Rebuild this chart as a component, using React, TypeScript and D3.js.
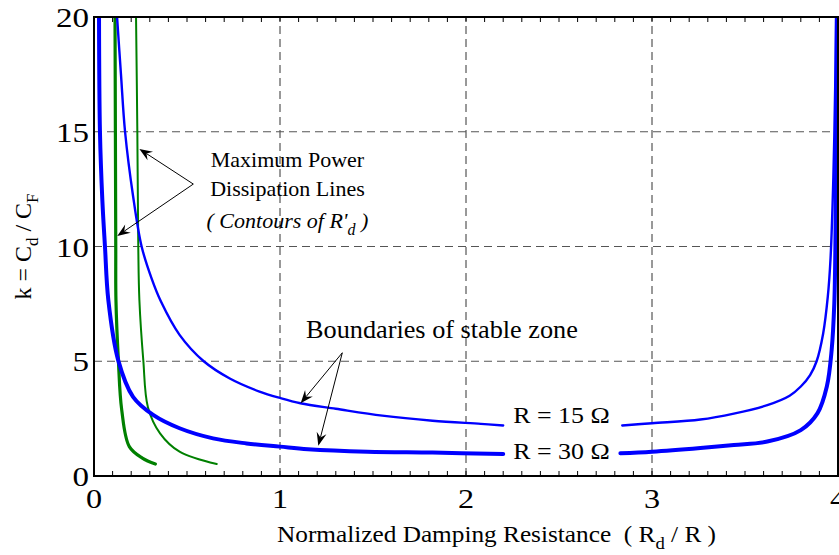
import * as d3 from "d3";
import type { ReactNode } from "react";

// k = Cd/CF against Rd/R
const r15Left: [number, number][] = [
  [0.124, 20], [0.145, 17.5], [0.167, 15], [0.21, 12.2], [0.256, 10], [0.31, 8.6],
  [0.36, 7.6], [0.46, 6.15], [0.59, 5.0], [0.73, 4.25], [0.89, 3.68], [1.0, 3.4],
  [1.11, 3.17], [1.3, 2.93], [1.55, 2.63], [1.82, 2.41], [2.08, 2.27], [2.2, 2.2],
];
const r15Right: [number, number][] = [
  [2.84, 2.2], [3.0, 2.3], [3.26, 2.46], [3.44, 2.72], [3.62, 3.09], [3.74, 3.5],
  [3.8, 3.9], [3.85, 4.4], [3.885, 5.0], [3.92, 6.2], [3.945, 7.8], [3.96, 9.5],
  [3.975, 13], [3.985, 17], [3.99, 20],
];
const r30Left: [number, number][] = [
  [0.027, 20], [0.032, 15], [0.045, 12], [0.059, 10], [0.077, 7.67], [0.13, 5.05],
  [0.21, 3.45], [0.32, 2.65], [0.46, 2.08], [0.64, 1.64], [0.82, 1.42], [1.0, 1.28],
  [1.15, 1.17], [1.47, 1.06], [1.82, 1.02], [2.2, 0.96],
];
const r30Right: [number, number][] = [
  [2.83, 0.99], [3.0, 1.06], [3.26, 1.22], [3.44, 1.35], [3.62, 1.5], [3.8, 2.0],
  [3.89, 2.74], [3.94, 3.9], [3.966, 5.5], [3.98, 7.5], [3.986, 10], [3.991, 15], [3.994, 20],
];
const mpdThick: [number, number][] = [
  [0.113, 20], [0.115, 15], [0.117, 10], [0.118, 7.67], [0.131, 5.05], [0.149, 2.88],
  [0.19, 1.28], [0.26, 0.78], [0.33, 0.52],
];
const mpdThin: [number, number][] = [
  [0.226, 20], [0.233, 15], [0.238, 10], [0.244, 7.67], [0.265, 5.05], [0.29, 3.0],
  [0.355, 1.86], [0.46, 1.06], [0.66, 0.52],
];

const xTicks = [0, 1, 2, 3, 4];
const yTicks = [0, 5, 10, 15, 20];

// annotation anchors (data units)
const mpdArrowFrom: [number, number] = [0.534, 12.72];
const mpdArrowTo: [number, number][] = [[0.244, 14.25], [0.125, 10.46]];
const stableArrowFrom: [number, number] = [1.335, 5.37];
const stableArrowTo: [number, number][] = [[1.111, 3.17], [1.206, 1.32]];

const W = 839;
const H = 555;
const margin = { top: 17, right: 1, bottom: 79, left: 94 };
const font = "Liberation Serif, Times New Roman, serif";

// the source figure is a little stretched sideways, so texts get an x scale
function SText(props: {
  x: number; y: number; sx?: number; size: number; anchor?: string;
  italic?: boolean; children: ReactNode;
}) {
  const { x, y, sx = 1, size, anchor = "start", italic, children } = props;
  return (
    <text
      transform={`translate(${x},${y}) scale(${sx},1)`}
      fontSize={size}
      textAnchor={anchor}
      fontStyle={italic ? "italic" : undefined}
    >
      {children}
    </text>
  );
}

function Arrow({ from, to }: { from: [number, number]; to: [number, number] }) {
  const [x1, y1] = from;
  const [x2, y2] = to;
  const ang = Math.atan2(y2 - y1, x2 - x1);
  const len = 13;
  const half = 5;
  const bx = x2 - len * Math.cos(ang);
  const by = y2 - len * Math.sin(ang);
  const nx = x2 - len * 0.65 * Math.cos(ang);
  const ny = y2 - len * 0.65 * Math.sin(ang);
  const px = -Math.sin(ang) * half;
  const py = Math.cos(ang) * half;
  return (
    <g>
      <line x1={x1} y1={y1} x2={nx} y2={ny} stroke="#000" strokeWidth={1} />
      <path
        d={`M${x2},${y2}L${bx + px},${by + py}L${nx},${ny}L${bx - px},${by - py}Z`}
        fill="#000"
      />
    </g>
  );
}

export default function App() {
  const x = d3.scaleLinear().domain([0, 4]).range([margin.left, W - margin.right]);
  const y = d3.scaleLinear().domain([0, 20]).range([H - margin.bottom, margin.top]);
  const line = d3
    .line<[number, number]>()
    .x((d) => x(d[0]))
    .y((d) => y(d[1]))
    .curve(d3.curveCatmullRom.alpha(0.5));

  const x0 = x(0), x1 = x(4), y0 = y(0), y1 = y(20);
  const minor = d3.range(1, 40).map((i) => i / 10);

  return (
    <svg
      width={W}
      height={H}
      style={{ position: "absolute", left: 0, top: 0, background: "#fff" }}
      fontFamily={font}
    >
      <defs>
        <clipPath id="plot">
          <rect x={x0} y={y1} width={x1 - x0} height={y0 - y1} />
        </clipPath>
      </defs>

      {/* grid */}
      {xTicks.slice(1, -1).map((t) => (
        <line key={"gx" + t} x1={x(t)} x2={x(t)} y1={y0} y2={y1}
          stroke="#333" strokeWidth={1} strokeDasharray="8,5" />
      ))}
      {yTicks.slice(1, -1).map((t) => (
        <line key={"gy" + t} x1={x0} x2={x1} y1={y(t)} y2={y(t)}
          stroke="#555" strokeWidth={1} strokeDasharray="8,5" />
      ))}

      {/* minor ticks top & bottom */}
      {minor.map((t) => (
        <g key={"m" + t}>
          <line x1={x(t)} x2={x(t)} y1={y0} y2={y0 - 5} stroke="#000" strokeWidth={1} />
          <line x1={x(t)} x2={x(t)} y1={y1} y2={y1 + 5} stroke="#000" strokeWidth={1} />
        </g>
      ))}

      {/* curves */}
      <g clipPath="url(#plot)" fill="none" strokeLinejoin="round" strokeLinecap="round">
        <path d={line(mpdThin)!} stroke="#008000" strokeWidth={2} />
        <path d={line(mpdThick)!} stroke="#008000" strokeWidth={3.2} />
        <path d={line(r15Left)!} stroke="#0000ff" strokeWidth={2.4} />
        <path d={line(r15Right)!} stroke="#0000ff" strokeWidth={2.4} />
        <path d={line(r30Left)!} stroke="#0000ff" strokeWidth={4} />
        <path d={line(r30Right)!} stroke="#0000ff" strokeWidth={4} />
      </g>

      {/* frame */}
      <rect x={x0} y={y1} width={x1 - x0} height={y0 - y1} fill="none" stroke="#000" strokeWidth={2} />

      {/* tick labels */}
      {xTicks.map((t) => (
        <SText key={"xl" + t} x={x(t)} y={y0 + 32} size={28} sx={1.15} anchor="middle">
          {t}
        </SText>
      ))}
      {yTicks.map((t) => (
        <SText key={"yl" + t} x={x0 - 5} y={y(t) + 10} size={28} sx={1.18} anchor="end">
          {t}
        </SText>
      ))}

      {/* axis titles */}
      <SText x={277} y={542} size={23} sx={1.1}>
        Normalized Damping Resistance{"\u00a0\u00a0"}( R
        <tspan fontSize={17} dy={7}>d</tspan>
        <tspan dy={-7}> / R )</tspan>
      </SText>
      <text transform={`translate(31, ${(y0 + y1) / 2}) rotate(-90)`} textAnchor="middle" fontSize={24}>
        k = C<tspan fontSize={17} dy={7}>d</tspan>
        <tspan dy={-7}> / C</tspan>
        <tspan fontSize={17} dy={7}>F</tspan>
      </text>

      {/* annotations */}
      {mpdArrowTo.map((t, i) => (
        <Arrow key={"ma" + i} from={[x(mpdArrowFrom[0]), y(mpdArrowFrom[1])]} to={[x(t[0]), y(t[1])]} />
      ))}
      {stableArrowTo.map((t, i) => (
        <Arrow key={"sa" + i} from={[x(stableArrowFrom[0]), y(stableArrowFrom[1])]} to={[x(t[0]), y(t[1])]} />
      ))}
      <SText x={x(1.04)} y={y(13.46)} size={22} anchor="middle">Maximum Power</SText>
      <SText x={x(1.04)} y={y(12.2)} size={22} anchor="middle">Dissipation Lines</SText>
      <SText x={x(1.04)} y={y(10.8)} size={22} anchor="middle" italic>
        ( Contours of R'<tspan fontSize={16} dy={7}>d</tspan>
        <tspan dy={-7}> )</tspan>
      </SText>
      <SText x={x(1.14)} y={y(6.0)} size={25} sx={1.05}>Boundaries of stable zone</SText>
      <SText x={x(2.254)} y={y(2.32)} size={24} sx={1.08}>R = 15 Ω</SText>
      <SText x={x(2.254)} y={y(0.73)} size={24} sx={1.08}>R = 30 Ω</SText>
    </svg>
  );
}
